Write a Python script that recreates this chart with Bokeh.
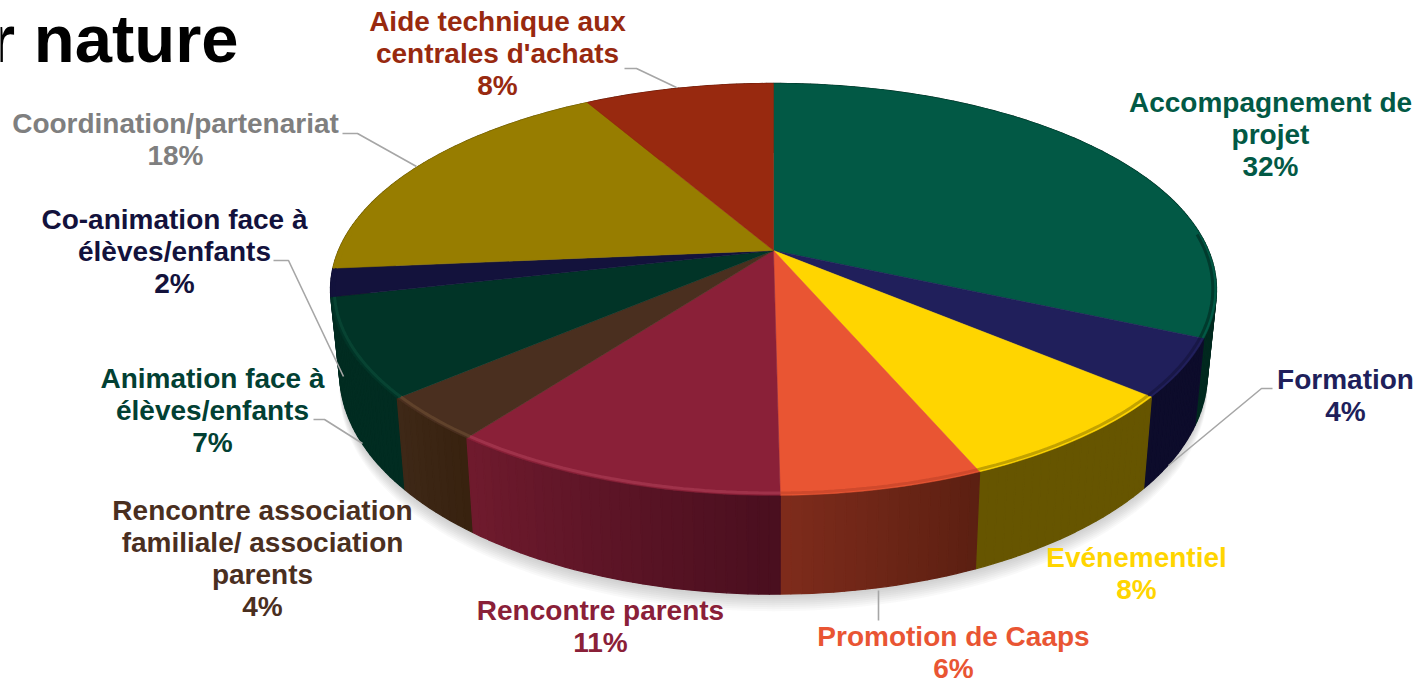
import math
from bokeh.plotting import figure
from bokeh.embed import file_html
from bokeh.resources import INLINE
from bokeh.core.properties import value

# ---- data ----
categories = ["Accompagnement de projet", "Formation", "Evénementiel", "Promotion de Caaps",
              "Rencontre parents", "Rencontre association familiale/ association parents",
              "Animation face à élèves/enfants", "Co-animation face à élèves/enfants",
              "Coordination/partenariat", "Aide technique aux centrales d'achats"]
percent_labels = ["32%", "4%", "8%", "6%", "11%", "4%", "7%", "2%", "18%", "8%"]
# shares as measured on the drawn slices
slice_shares = [31.7, 4.5, 7.4, 6.2, 10.4, 3.5, 7.7, 2.2, 18.1, 8.3]

# ---- styles ----
top_colors = ["#025945", "#201F5B", "#FFD500", "#E95533", "#8A2038",
              "#4A2F1F", "#013427", "#13123C", "#977D00", "#98290F"]
side_left = ["#01291F", "#0D0C2B", "#665500", "#7F2C1C", "#701B2E",
             "#3F2918", "#012C21", "#0F0E30", "#665500", "#5E1A0A"]
side_right = ["#012A20", "#0D0C2B", "#665500", "#5C2012", "#4A0F1F",
              "#38220F", "#012C21", "#0F0E30", "#665500", "#5E1A0A"]
rim_colors = ["#012E24", "#15143F", "#A88C00", "#C4452A", "#A83A52",
              "#6A4A30", "#0A4A38", "#13123C", "#977D00", "#98290F"]
text_colors = ["#025945", "#201F5B", "#FFD500", "#E95533", "#8A2038",
               "#4A2F1F", "#024033", "#13123C", "#7F7F7F", "#98290F"]

# ---- layout (pixels of the page) ----
label_lines = [["Accompagnement de", "projet"], ["Formation"], ["Evénementiel"], ["Promotion de Caaps"],
               ["Rencontre parents"], ["Rencontre association", "familiale/ association", "parents"],
               ["Animation face à", "élèves/enfants"], ["Co-animation face à", "élèves/enfants"],
               ["Coordination/partenariat"], ["Aide technique aux", "centrales d'achats"]]
label_x = [1270, 1345, 1136, 953, 600, 262, 212, 174, 175, 497]
label_y = [102, 379, 557, 636, 610, 510, 378, 219, 123, 21]
LINE = 32
leaders = [([1272, 1261, 1168], [388, 388, 465]),
           ([878, 878], [590, 620]),
           ([273, 288, 343], [260, 260, 376]),
           ([313, 324, 362], [419, 419, 443]),
           ([342, 357, 416], [133, 133, 166]),
           ([624, 636, 676], [68, 68, 87])]

CX, K = 773, 0.189
TOP = (435, 198.6, 250)
BOT = (426, 213, 331)


def project(plane, angle, r=1.0):
    a, b, c = plane
    x, y = r * math.sin(angle), r * math.cos(angle)
    d = 1 + K * y
    return CX + a * x / d, c - b * y / d


p = figure(width=1416, height=679, x_range=(0, 1416), y_range=(679, 0),
           output_backend="svg", toolbar_location=None, min_border=0,
           margin=(0, 0, 0, 0), outline_line_color=None,
           background_fill_color="white", border_fill_color="white")
p.axis.visible = False
p.grid.visible = False

total = sum(slice_shares)
bounds = [0.0]
for s in slice_shares:
    bounds.append(bounds[-1] + s / total * 2 * math.pi)

# soft shadow under the body
ring = [2 * math.pi * i / 240 for i in range(240)]
for off in range(1, 19, 2):
    p.patch([project(BOT, t)[0] for t in ring],
            [project(BOT, t)[1] + off for t in ring],
            fill_color="#555555", fill_alpha=0.035, line_color=None)

# walls
wx, wy, wc = [], [], []
for i in range(len(slice_shares)):
    a0, a1 = bounds[i], bounds[i + 1]
    n = max(4, int((a1 - a0) / 0.02))
    c0 = [int(side_left[i][j:j + 2], 16) for j in (1, 3, 5)]
    c1 = [int(side_right[i][j:j + 2], 16) for j in (1, 3, 5)]
    # the shading runs from the picture's left to right
    goes_right = math.sin(a0) > math.sin(a1)
    for k in range(n):
        t0 = a0 + (a1 - a0) * k / n
        t1 = a0 + (a1 - a0) * (k + 1) / n
        f = (k + .5) / n
        f = 1 - f if goes_right else f
        col = "#%02X%02X%02X" % tuple(int(c0[j] + (c1[j] - c0[j]) * f) for j in range(3))
        u0, u1 = project(TOP, t0), project(TOP, t1)
        l0, l1 = project(BOT, t0), project(BOT, t1)
        wx.append([u0[0], u1[0], l1[0], l0[0]])
        wy.append([u0[1], u1[1], l1[1], l0[1]])
        wc.append(col)
order = sorted(range(len(wx)), key=lambda q: sum(wy[q]))
p.patches([wx[q] for q in order], [wy[q] for q in order],
          fill_color=[wc[q] for q in order], line_color=[wc[q] for q in order], line_width=1.3)

# top faces
for i in range(len(slice_shares)):
    a0, a1 = bounds[i], bounds[i + 1]
    n = max(6, int((a1 - a0) / 0.02))
    arc = [project(TOP, a0 + (a1 - a0) * k / n) for k in range(n + 1)]
    centre = project(TOP, 0, 0)
    xs = [centre[0]] + [q[0] for q in arc]
    ys = [centre[1]] + [q[1] for q in arc]
    p.patch(xs, ys, fill_color=top_colors[i], line_color=top_colors[i], line_width=0.5)

# bevel along the front of the rim
for i in range(len(slice_shares)):
    a0, a1 = bounds[i], bounds[i + 1]
    n = max(6, int((a1 - a0) / 0.02))
    arc = [a0 + (a1 - a0) * k / n for k in range(n + 1)]
    arc = [t for t in arc if math.cos(t) < 0.1]
    if len(arc) > 1:
        pts = [project(TOP, t, 0.992) for t in arc]
        p.line([q[0] for q in pts], [q[1] for q in pts], line_color=rim_colors[i],
               line_width=3, line_alpha=0.7, line_cap="butt")

# leader lines
for lx, ly in leaders:
    p.line(lx, ly, line_color="#A6A6A6", line_width=1.6)

# labels
tx, ty, tt, tc = [], [], [], []
for i, lines in enumerate(label_lines):
    for j, s in enumerate(lines + [percent_labels[i]]):
        tx.append(label_x[i])
        ty.append(label_y[i] + j * LINE)
        tt.append(s)
        tc.append(text_colors[i])
p.text(tx, ty, text=tt, text_color=tc, text_font=value("Liberation Sans"), text_font_style="bold",
       text_font_size="28px", text_align="center", text_baseline="middle")

p.text([238], [38], text=["r nature"], text_color="#000000", text_font=value("Liberation Sans"),
       text_font_style="bold", text_font_size="67px", text_align="right", text_baseline="alphabetic")

open("out.html", "w").write(file_html(p, INLINE))
